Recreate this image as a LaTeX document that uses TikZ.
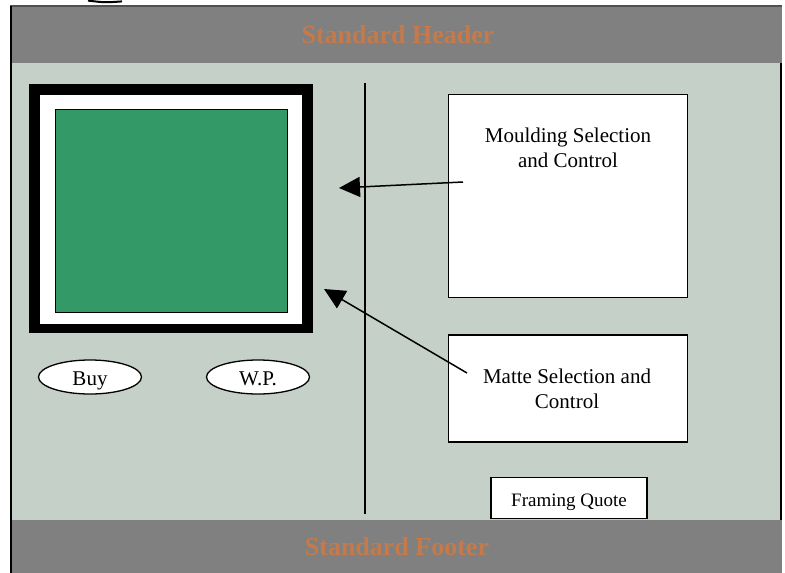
\documentclass[tikz,border=0pt]{standalone}
\usepackage{fontspec}
\setmainfont{Liberation Serif}
\usetikzlibrary{arrows.meta,shapes.geometric}
\definecolor{bgc}{RGB}{197,208,200}
\definecolor{bandc}{RGB}{128,128,128}
\definecolor{titlec}{RGB}{196,122,74}
\definecolor{greenc}{RGB}{51,153,102}
\definecolor{topline}{RGB}{80,80,80}
\tikzset{
  band/.style={fill=bandc, draw=none},
  titletext/.style={text=titlec, font=\fontsize{26}{30}\selectfont\bfseries},
  boxtext/.style={font=\fontsize{21}{25}\selectfont, align=center},
  panel/.style={draw=black, line width=1.5pt, fill=white, rectangle, inner sep=0pt},
  btn/.style={draw=black, line width=1.3pt, fill=white, ellipse, inner sep=0pt, minimum width=103pt, minimum height=34pt, font=\fontsize{21}{25}\selectfont, text height=17pt, text depth=0pt},
  pointer/.style={line width=1.5pt, -{Triangle[length=21pt,width=20pt]}},
}
\begin{document}
\begin{tikzpicture}[x=1pt,y=-1pt]
\useasboundingbox (0,0) rectangle (785,573);
% background regions
\fill[bgc] (12,63) rectangle (781,520);
\path[band] (12,7) rectangle (782,63);
\path[band] (11,520) rectangle (782,573);
\draw[topline, line width=1.3pt] (10,6) -- (782,6);
\draw[black, line width=2pt] (11,6) -- (11,573);
\draw[black, line width=2pt] (781,63) -- (781,520);
% stray stroke at top
\draw[black, line width=2pt] (88,0.6) .. controls (105,2.6) .. (122,1.4);
% titles
\node[titletext] (header) at (398,35) {Standard Header};
\node[titletext] (footer) at (397,547) {Standard Footer};
% picture frame
\node[rectangle, fill=black, inner sep=0pt, minimum width=284pt, minimum height=249pt] (frame) at (171,208.5) {};
\node[rectangle, fill=white, inner sep=0pt, minimum width=262pt, minimum height=229pt] (matte) at (171,209.5) {};
\node[rectangle, fill=greenc, draw=black, line width=1pt, inner sep=0pt, minimum width=232pt, minimum height=203pt] (art) at (171.5,210.5) {};
% buttons
\node[btn] (buy) at (90,377) {Buy};
\node[btn] (wp) at (258,377) {W.P.};
% divider
\coordinate (divtop) at (365,83);
\coordinate (divbot) at (365,514);
\draw[line width=1.5pt] (divtop) -- (divbot);
% panels
\node[panel, minimum width=239pt, minimum height=203pt,
  label={[boxtext, anchor=north, yshift=-31pt]north:Moulding Selection\\and Control}] (mould) at (568,195.8) {};
\node[panel, minimum width=239pt, minimum height=107pt] (mattebox) at (568,388.3) {};
\node[boxtext] (mattetext) at (567,389) {Matte Selection and\\Control};
\node[panel, minimum width=156pt, minimum height=41pt, font=\fontsize{19}{23}\selectfont, text height=16.4pt, text depth=0pt] (quote) at (569,497.8) {Framing Quote};
% arrows
\coordinate (a1s) at (463,182);
\coordinate (a1e) at (339,188);
\coordinate (a2s) at (467,373);
\coordinate (a2e) at (324,289);
\draw[pointer] (a1s) -- (a1e);
\draw[pointer] (a2s) -- (a2e);
\end{tikzpicture}
\end{document}
